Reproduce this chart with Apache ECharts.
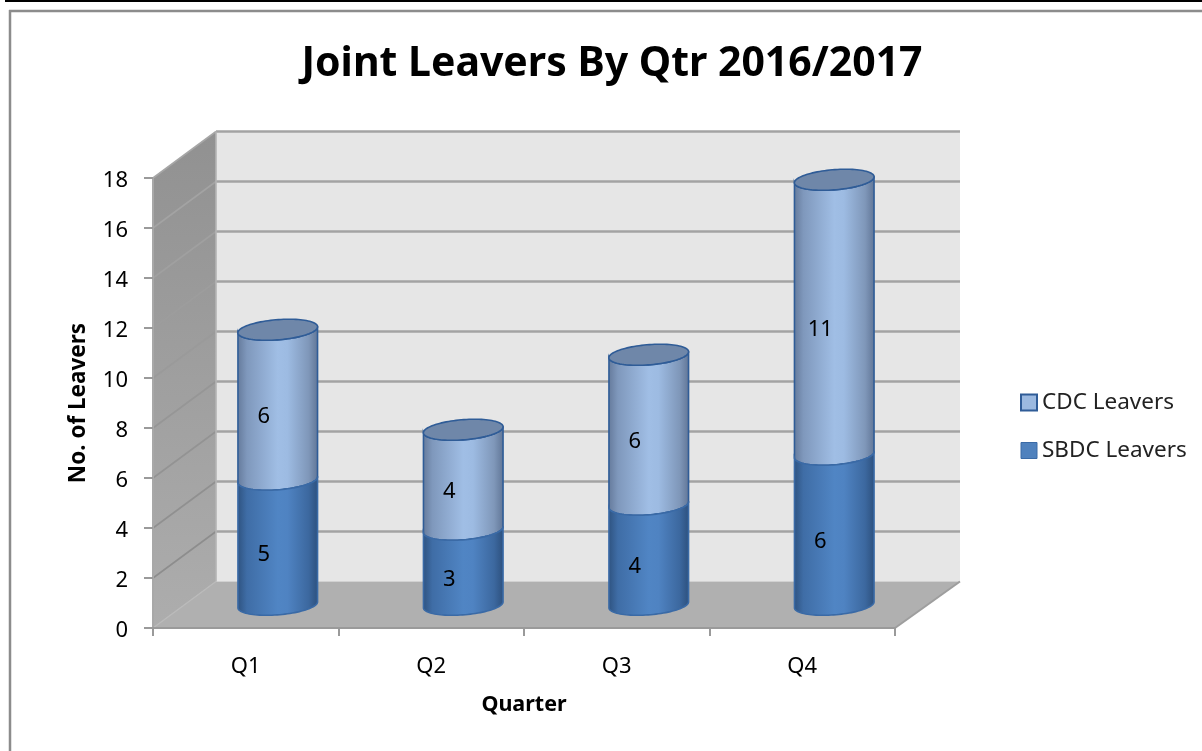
<!DOCTYPE html>
<html>
<head>
<meta charset="utf-8">
<title>Joint Leavers By Qtr 2016/2017</title>
<style>
  html, body { margin: 0; padding: 0; background: #fff; }
  #chart { width: 1202px; height: 751px; }
</style>
<script src="https://cdn.jsdelivr.net/npm/echarts@6/dist/echarts.min.js"></script>
</head>
<body>
<div id="chart"></div>
<script>
// Leavers per quarter
const quarters = ['Q1', 'Q2', 'Q3', 'Q4'];
const sbdcLeavers = [5, 3, 4, 6];
const cdcLeavers = [6, 4, 6, 11];
const valueTicks = [0, 2, 4, 6, 8, 10, 12, 14, 16, 18];

const FONT = '"Noto Sans", sans-serif';
// Oblique projection of the chart box: how far the back wall sits from the front plane
const DEPTH_X = 63;
const DEPTH_Y = -46.5;
const BACK_EXTRA = 2;

const chart = echarts.init(document.getElementById('chart'));

function hGradient(stops) {
  return new echarts.graphic.LinearGradient(0, 0, 1, 0,
    stops.map(function (s) { return { offset: s[0], color: s[1] }; }));
}

const palette = {
  cdc: {
    legend: '#9BB9E0',
    border: '#2F5C97',
    side: hGradient([[0, '#64799A'], [0.12, '#7F98BC'], [0.5, '#A0BEE5'], [0.62, '#9DBBE2'], [0.88, '#7F97B9'], [1, '#5F7495']]),
    cap: '#6F87A9'
  },
  sbdc: {
    legend: '#4F81BD',
    border: '#3A6AA6',
    side: hGradient([[0, '#2E527F'], [0.12, '#3F6DA6'], [0.5, '#5085C4'], [0.62, '#4F83C2'], [0.88, '#3C689F'], [1, '#2C4F7C']]),
    cap: '#3F6DA6'
  }
};

// One point on the tilted rim of a cylinder
function rim(cx, cy, r, t) {
  return [
    cx + r * Math.cos(t) + r * 0.05 * Math.sin(t),
    cy - r * 0.0875 * Math.cos(t) + r * 0.25 * Math.sin(t)
  ];
}

function cylinderRenderer(colors, showCap) {
  return function (params, api) {
    const idx = api.value(0);
    const base = api.coord([idx, api.value(1)]);
    const top = api.coord([idx, api.value(2)]);
    const r = api.size([1, 0])[0] * 0.2145;
    const cx = base[0] + DEPTH_X / 2 + 0.5;
    const yBase = base[1] + DEPTH_Y / 2;
    const yTop = top[1] + DEPTH_Y / 2;
    const STEPS = 48;
    const pts = [];
    for (let i = 0; i <= STEPS; i++) pts.push(rim(cx, yTop, r, Math.PI * i / STEPS));
    for (let i = STEPS; i >= 0; i--) pts.push(rim(cx, yBase, r, Math.PI * i / STEPS));
    const children = [{
      type: 'polygon',
      shape: { points: pts },
      style: { fill: colors.side, stroke: colors.border, lineWidth: 1.6 }
    }];
    if (showCap) {
      const cap = [];
      for (let i = 0; i < 96; i++) cap.push(rim(cx, yTop, r, Math.PI * 2 * i / 96));
      children.push({
        type: 'polygon',
        shape: { points: cap },
        style: { fill: colors.cap, stroke: colors.border, lineWidth: 1.6 }
      });
    }
    children.push({
      type: 'text',
      style: {
        text: String(api.value(2) - api.value(1)),
        x: cx - 14,
        y: (yBase + yTop) / 2 + 12,
        align: 'center',
        verticalAlign: 'middle',
        font: '22px ' + FONT,
        fill: '#000'
      }
    });
    return { type: 'group', children: children };
  };
}

// Side wall, back wall, floor and the gridlines running across them
function renderWalls(params, api) {
  const cs = params.coordSys;
  const left = cs.x, right = cs.x + cs.width;
  const y0 = api.coord([0, valueTicks[0]])[1];
  const yMax = api.coord([0, valueTicks[valueTicks.length - 1]])[1];
  const backRight = right + DEPTH_X + BACK_EXTRA;
  const children = [
    {
      type: 'polygon',
      shape: { points: [[left, yMax], [left + DEPTH_X, yMax + DEPTH_Y], [left + DEPTH_X, y0 + DEPTH_Y], [left, y0]] },
      style: {
        fill: new echarts.graphic.LinearGradient(0, 0, 0, 1, [
          { offset: 0, color: '#919191' }, { offset: 1, color: '#ADADAD' }
        ])
      }
    },
    {
      type: 'rect',
      shape: { x: left + DEPTH_X, y: yMax + DEPTH_Y, width: backRight - left - DEPTH_X, height: y0 - yMax },
      style: { fill: '#E6E6E6' }
    },
    {
      type: 'polygon',
      shape: { points: [[left, y0], [right, y0], [backRight, y0 + DEPTH_Y], [left + DEPTH_X, y0 + DEPTH_Y]] },
      style: { fill: '#B0B0B0' }
    }
  ];
  const topTick = valueTicks[valueTicks.length - 1];
  valueTicks.forEach(function (tick) {
    const y = api.coord([0, tick])[1];
    if (tick > valueTicks[0]) {
      // Lines on the side wall stay visible against its shading: pale near the top, dark near the floor
      const shade = Math.round(0x8A + (0xA6 - 0x8A) * tick / topTick);
      children.push({
        type: 'line',
        shape: { x1: left, y1: y, x2: left + DEPTH_X, y2: y + DEPTH_Y },
        style: { stroke: 'rgb(' + shade + ',' + shade + ',' + shade + ')', lineWidth: 1.6 }
      });
      children.push({
        type: 'line',
        shape: { x1: left + DEPTH_X, y1: y + DEPTH_Y, x2: backRight, y2: y + DEPTH_Y },
        style: { stroke: '#A3A3A3', lineWidth: 2.4 }
      });
    }
  });
  children.push({
    type: 'line',
    shape: { x1: left + DEPTH_X, y1: yMax + DEPTH_Y, x2: left + DEPTH_X, y2: y0 + DEPTH_Y },
    style: { stroke: '#B4B4B4', lineWidth: 1.6 }
  });
  children.push({
    type: 'line',
    shape: { x1: left, y1: y0, x2: left + DEPTH_X, y2: y0 + DEPTH_Y },
    style: { stroke: '#BABABA', lineWidth: 1.5 }
  });
  children.push({
    type: 'line',
    shape: { x1: right, y1: y0, x2: backRight, y2: y0 + DEPTH_Y },
    style: { stroke: '#9E9E9E', lineWidth: 2 }
  });
  return { type: 'group', children: children };
}

const axisStroke = { color: '#9A9A9A', width: 2 };

chart.setOption({
  animation: false,
  backgroundColor: '#fff',
  title: {
    text: 'Joint Leavers By Qtr 2016/2017',
    left: 607,
    top: 39,
    textAlign: 'center',
    textStyle: { fontFamily: FONT, fontSize: 41, fontWeight: 'bold', color: '#000' }
  },
  legend: {
    orient: 'vertical',
    left: 1015,
    top: 386,
    padding: [5, 5, 5, 5],
    itemWidth: 16,
    itemHeight: 16,
    itemGap: 25,
    icon: 'rect',
    textStyle: { fontFamily: FONT, fontSize: 22.5, color: '#222' },
    data: [
      { name: 'CDC Leavers', itemStyle: { color: palette.cdc.legend, borderColor: palette.cdc.border, borderWidth: 2 } },
      { name: 'SBDC Leavers', itemStyle: { color: palette.sbdc.legend, borderColor: palette.sbdc.border, borderWidth: 1 } }
    ]
  },
  grid: { left: 153, right: 307, top: 178, bottom: 123 },
  xAxis: {
    type: 'category',
    data: quarters,
    z: 4,
    name: 'Quarter',
    nameLocation: 'middle',
    nameGap: 66,
    nameTextStyle: { fontFamily: FONT, fontSize: 21.5, fontWeight: 'bold', color: '#000' },
    axisLine: { lineStyle: axisStroke },
    axisTick: { show: true, length: 8, alignWithLabel: false, lineStyle: axisStroke },
    axisLabel: { fontFamily: FONT, fontSize: 22, color: '#000', margin: 28 },
    splitLine: { show: false }
  },
  yAxis: {
    type: 'value',
    min: 0,
    max: 18,
    interval: 2,
    z: 4,
    name: 'No. of Leavers',
    nameLocation: 'middle',
    nameGap: 63,
    nameTextStyle: { fontFamily: FONT, fontSize: 22.5, fontWeight: 'bold', color: '#000' },
    axisLine: { show: true, lineStyle: { color: '#A8A8A8', width: 2 } },
    axisTick: { show: true, length: 9, lineStyle: axisStroke },
    axisLabel: {
      margin: 25,
      formatter: '{tick|{value}}',
      rich: {
        tick: { fontFamily: FONT, fontSize: 22, color: '#000', padding: [5, 0, 0, 0] }
      }
    },
    splitLine: { show: false }
  },
  series: [
    {
      type: 'custom',
      silent: true,
      z: 1,
      coordinateSystem: 'cartesian2d',
      renderItem: renderWalls,
      data: [[0, 0]],
      encode: { x: 0, y: 1 }
    },
    {
      name: 'CDC Leavers',
      type: 'custom',
      z: 3,
      coordinateSystem: 'cartesian2d',
      renderItem: cylinderRenderer(palette.cdc, true),
      itemStyle: { color: palette.cdc.legend },
      encode: { x: 0, y: 2 },
      data: cdcLeavers.map(function (v, i) { return [i, sbdcLeavers[i], sbdcLeavers[i] + v]; })
    },
    {
      name: 'SBDC Leavers',
      type: 'custom',
      z: 3,
      coordinateSystem: 'cartesian2d',
      renderItem: cylinderRenderer(palette.sbdc, false),
      itemStyle: { color: palette.sbdc.legend },
      encode: { x: 0, y: 2 },
      data: sbdcLeavers.map(function (v, i) { return [i, 0, v]; })
    }
  ],
  graphic: [
    { type: 'line', silent: true, shape: { x1: 5, y1: 1, x2: 1202, y2: 1 }, style: { stroke: '#000', lineWidth: 2 } },
    { type: 'line', silent: true, shape: { x1: 9, y1: 11, x2: 1202, y2: 11 }, style: { stroke: '#8C8C8C', lineWidth: 2.5 } },
    { type: 'line', silent: true, shape: { x1: 10, y1: 10, x2: 10, y2: 751 }, style: { stroke: '#8C8C8C', lineWidth: 2.5 } }
  ]
});
</script>
</body>
</html>
